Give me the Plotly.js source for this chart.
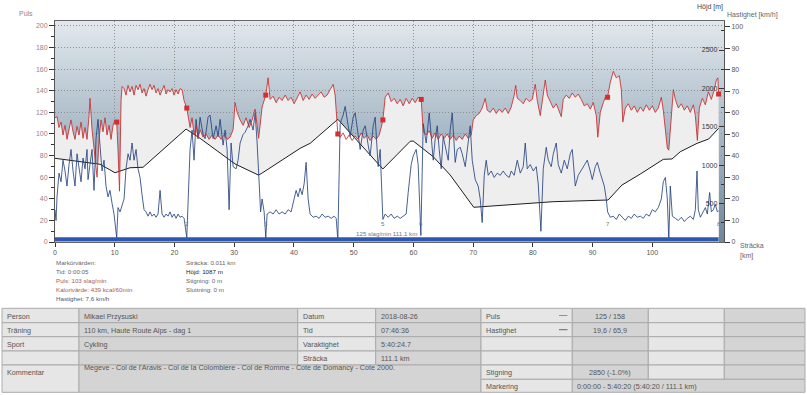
<!DOCTYPE html>
<html><head><meta charset="utf-8">
<script src="https://cdn.plot.ly/plotly-3.0.1.min.js"></script>
<style>html,body{margin:0;padding:0;background:#fff;overflow:hidden}#chart{width:807px;height:395px}</style>
</head><body><div id="chart"></div>
<script>
// ---------------- DATA ----------------
const pulseKm = [0,0.34,0.67,1.01,1.34,1.68,2.01,2.35,2.68,3.02,3.35,3.69,4.02,4.36,4.69,5.03,5.36,5.70,5.86,6.20,6.53,6.87,7.04,7.37,7.71,8.04,8.38,8.71,9.05,9.38,9.72,10.05,10.33,10.55,10.80,11.06,11.22,11.56,11.89,12.23,12.56,12.90,13.23,13.57,13.90,14.24,14.57,14.91,15.24,15.58,15.91,16.25,16.58,16.92,17.25,17.59,17.92,18.26,18.59,18.93,19.26,19.60,19.93,20.27,20.60,20.94,21.27,21.61,22.06,22.28,22.61,22.95,23.28,23.62,23.95,24.29,24.79,25.29,25.80,26.30,26.80,27.30,27.81,28.31,28.81,29.31,29.82,30.15,30.49,30.99,31.49,31.99,32.50,33.00,33.50,33.84,34.09,34.34,34.67,35.29,35.68,36.01,36.52,37.02,37.52,38.02,38.53,39.03,39.53,40.03,40.54,41.04,41.54,42.04,42.55,43.05,43.55,44.05,44.56,45.06,45.56,46.06,46.57,46.90,47.35,47.74,48.24,48.74,49.25,49.75,50.25,50.75,51.26,51.76,52.26,52.76,53.27,53.77,54.27,54.61,54.89,55.28,55.78,56.28,56.78,57.29,57.79,58.29,58.79,59.30,59.80,60.30,60.80,61.31,61.64,62.14,62.65,63.15,63.65,64.15,64.66,65.16,65.66,66.16,66.67,67.17,67.67,68.17,68.68,69.18,69.68,70.02,70.52,71.02,71.52,72.03,72.36,72.86,73.37,73.87,74.37,74.87,75.38,75.88,76.38,76.88,77.13,77.39,77.89,78.39,78.89,79.40,79.90,80.40,80.74,81.24,81.57,82.08,82.41,82.91,83.42,83.92,84.42,84.76,85.09,85.59,86.10,86.60,87.10,87.60,88.11,88.61,89.11,89.61,90.12,90.62,90.87,91.29,91.79,92.13,92.51,92.96,93.47,93.97,94.47,94.81,95.06,95.48,95.98,96.48,96.98,97.49,97.99,98.49,98.99,99.50,100.00,100.50,101.00,101.51,101.84,102.18,102.51,102.76,103.01,103.52,103.85,104.35,104.86,105.36,105.86,106.36,106.87,107.20,107.54,107.87,108.37,108.88,109.38,109.88,110.38,110.72,110.97,111.1];
const pulseBpm = [115,116,106,111,99,108,95,106,113,102,95,107,99,111,96,106,95,117,133,104,85,71,60,95,113,102,115,99,108,95,108,113,111,85,47,131,144,142,136,145,139,144,136,145,141,146,138,142,135,141,146,141,145,138,142,136,141,145,137,141,139,142,136,141,137,142,141,131,124,115,106,115,99,108,96,104,97,100,95,99,95,99,95,99,95,97,104,129,120,113,108,115,106,113,123,108,96,108,125,136,152,132,135,129,134,131,136,131,134,128,134,139,131,136,132,137,133,136,139,134,136,141,146,136,100,97,101,95,99,94,98,95,101,96,99,94,98,95,99,106,113,134,138,130,133,128,132,126,133,128,133,129,134,132,102,99,103,96,101,95,100,96,100,95,99,94,98,95,100,96,99,113,117,119,124,133,122,120,124,119,123,120,124,119,125,136,145,133,131,128,133,130,132,146,131,117,129,150,136,130,124,128,120,116,132,136,133,138,134,137,132,126,128,123,129,117,97,120,129,134,134,148,158,152,154,141,111,124,128,122,126,120,125,121,127,122,126,120,124,134,122,104,87,85,104,141,132,124,128,122,126,120,127,117,94,124,133,127,139,132,141,150,152,137];

const speedKm = [0,0.17,0.34,0.67,1.01,1.34,1.68,2.01,2.35,2.68,3.02,3.35,3.69,4.02,4.36,4.69,5.03,5.36,5.53,5.86,6.20,6.53,6.87,7.20,7.54,7.87,8.21,8.54,8.88,9.21,9.55,9.88,10.33,10.55,10.89,11.22,11.56,11.89,12.23,12.56,12.90,13.23,13.57,13.90,14.24,14.57,14.91,15.24,15.58,15.91,16.25,16.58,16.92,17.25,17.59,17.92,18.26,18.59,18.93,19.26,19.60,19.93,20.27,20.60,20.94,21.27,21.61,22.06,22.28,22.61,22.95,23.28,23.62,23.95,24.29,24.79,25.13,25.63,25.96,26.47,26.97,27.30,27.64,28.14,28.48,28.81,29.15,29.48,29.82,30.32,30.65,30.99,31.49,31.83,32.33,32.66,33.17,33.50,33.84,34.17,34.42,34.67,35.01,35.29,35.51,36.01,36.52,37.02,37.52,38.02,38.53,39.03,39.53,40.03,40.37,40.70,41.04,41.37,41.71,42.04,42.38,42.71,43.22,43.72,44.22,44.72,45.23,45.73,46.23,46.73,47.07,47.35,47.74,48.24,48.58,49.08,49.41,49.92,50.25,50.75,51.09,51.59,51.93,52.43,52.76,53.27,53.60,54.10,54.44,54.89,55.28,55.78,56.28,56.78,57.29,57.79,58.29,58.79,59.13,59.63,59.97,60.47,60.80,61.25,61.64,62.14,62.65,62.98,63.32,63.65,63.99,64.32,64.66,64.99,65.49,65.83,66.16,66.50,67.00,67.34,67.84,68.17,68.68,69.01,69.51,69.85,70.35,70.85,71.19,71.52,71.86,72.19,72.53,73.03,73.53,74.04,74.54,75.04,75.54,76.05,76.38,76.88,77.39,77.89,78.39,78.73,79.06,79.56,80.07,80.57,80.90,81.35,81.74,82.24,82.58,83.08,83.42,83.92,84.25,84.76,85.26,85.76,86.26,86.60,87.10,87.60,88.27,88.78,89.11,89.61,89.95,90.45,90.79,91.29,91.62,91.96,92.29,92.51,92.96,93.47,93.97,94.47,94.97,95.48,95.98,96.48,96.98,97.49,97.99,98.49,98.99,99.50,100.00,100.50,101.00,101.51,101.84,102.18,102.51,102.76,103.01,103.35,103.85,104.35,104.86,105.36,105.86,106.36,106.87,107.20,107.48,107.70,108.04,108.54,108.88,109.21,109.60,109.88,110.22,110.55,110.89,111.1];
const speedKmh = [15,10,21,32,28,38,33,26,36,43,33,26,41,35,28,39,34,43,29,36,43,24,48,57,43,33,38,26,21,24,18,13,2,16,14,17.5,20,34,41,38,46,38,43,34,30,22,15,14,12,14,12,13,11.5,13,24,13,11.5,13,12,14,11.5,13,11,13,11.5,12,11,2,20,43,52,38,57,48,58,50,48,58,59,48,54,49,57,45,52,43,15,46,35,34,38,46,50,51,54,57,52,60,46,29,14,20,14,2,13,14,13,15,13,14,13,15,14,20,24,21,25,22,27,37,20,13,11.5,12,11,13,11.5,12,11,12,11,1,55,59,63,54,49,58,60,50,43,52,54,45,40,54,58,35,43,10.5,13,11.5,13,11,12,11,12,13,23,36,40,43,36,3,55,46,60,50,38,48,54,43,34,49,43,38,52,60,37,43,44,41,35,43,54,38,29,26,20,9,31,38,31,33,30,32,31,33,31,30,33,31,38,32,35,46,34,36,33,35,27,5,34,44,38,35,41,46,36,32,38,34,41,43,26,31,34,36,38,33,29,35,37,32,29,26,20,14,11.5,12,10.5,13,11.5,10,12,11,13,11.5,12,11,13,12,15,14,16,20,28,30,20,1,26,12,11,10,11.5,9.5,11,12,10.5,15,33,15,11.5,14,16,13,23,14,15,17.5,14,14.5];

const altKm = [0,7.54,10.05,12.56,14.74,21.94,24.29,30.15,34.05,34.62,41.04,42.71,47.35,54.89,59.46,59.97,63.32,66.16,70.1,75.0,83.4,92.6,94.92,97.99,101.84,103.3,104.69,107.49,109.43,111.1];
const altM  = [1090,1012,902,967,973,1471,1350,1016,872,895,1220,1285,1598,951,1311,1315,1111,872,452,482,525,547,742,885,1077,1081,1176,1285,1341,1480];

const lapKm    = [10.33,22.06,35.29,47.35,54.89,61.31,92.51,111.1];
const lapPulse = [111,124,136,100,113,132,134,137];
const lapNames = ['','2','3','','5','6','7','8'];

const xTicks   = [0,10,20,30,40,50,60,70,80,90,100,110];
const altTicks = [500,1000,1500,2000,2500];

const avgText = '125 slag/min 111.1 km';
const markerLeft  = ['Markörvärden:','Tid: 0:00:05','Puls: 103 slag/min','Kalorivärde: 439 kcal/60min','Hastighet: 7,6 km/h'];
const markerRight = ['Sträcka: 0.011 km','Höjd: 1087 m','Stigning: 0 m','Sluttning: 0 m'];

const tabCol1 = ['Person','Träning','Sport','','Kommentar'];
const tabCol2 = ['Mikael Przysuski','110 km, Haute Route Alps - dag 1','Cykling',''];
const tabComment = "Megeve - Col de l'Aravis - Col de la Colombiere - Col de Romme - Cote de Domancy - Cote 2000.";
const tabCol3 = ['Datum','Tid','Varaktighet','Sträcka'];
const tabCol4 = ['2018-08-26','07:46:36','5:40:24.7','111.1 km'];
const tabCol5 = ['Puls','Hastighet','','','Stigning','Markering'];
const tabCol6 = ['125 / 158','19,6 / 65,9','','','2850 (-1.0%)'];
const tabMarkering = '0:00:00 - 5:40:20 (5:40:20 / 111.1 km)';

// ---------------- LAYOUT HELPERS ----------------
const FONT = 'Liberation Sans, Arial, sans-serif';
const L = 55, R = 724, T = 21, B = 242;
const X = v => (v - L) / (R - L);
const Y = v => (B - v) / (B - T);
const PULSE_TOP = 204.6, SPEED_TOP = 102.7, ALT_TOP = 2878;

function gradientURI(){
  const c = document.createElement('canvas'); c.width = 4; c.height = 256;
  const g = c.getContext('2d'); const lg = g.createLinearGradient(0,0,0,256);
  lg.addColorStop(0,'#e2e8ed'); lg.addColorStop(0.5,'#a8b9c7'); lg.addColorStop(1,'#6d879c');
  g.fillStyle = lg; g.fillRect(0,0,4,256); return c.toDataURL('image/png');
}

const ann = [], shapes = [];
function txt(xpx, ypx, text, size, color, xanchor){
  ann.push({xref:'paper', yref:'paper', x:X(xpx), y:Y(ypx), text:text, showarrow:false,
    xanchor:xanchor||'left', yanchor:'middle', font:{family:FONT, size:size, color:color}, borderpad:0});
}

// axis titles
txt(25.5, 14, 'Puls', 7, '#9c8080', 'center');
txt(709.5, 7, 'Höjd [m]', 7, '#444', 'center');
txt(752.5, 14.5, 'Hastighet [km/h]', 7, '#666', 'center');
txt(739, 245, 'Sträcka', 7, '#666', 'left');
txt(739, 256, '[km]', 7, '#666', 'left');

// marker values
const mlY = [262.7, 271.7, 280.7, 289.5, 298.3];
const mlC = ['#666','#666','#a55a5a','#a55a5a','#4a5878'];
markerLeft.forEach((t,i)=>txt(54.5, mlY[i], t, 6.2, mlC[i]));
const mrC = ['#666','#222','#666','#666'];
markerRight.forEach((t,i)=>txt(185, mlY[i], t, 6.2, mrC[i]));

// average text inside plot
ann.push({xref:'x', yref:'paper', x:55.55, y:Y(233.5), text:avgText, showarrow:false, xanchor:'center', yanchor:'middle',
  font:{family:FONT, size:6.2, color:'#777'}, borderpad:0});

// lap labels
lapKm.forEach((k,i)=>{ if(lapNames[i]) ann.push({xref:'x', yref:'y3', x:k, y:8.6, text:lapNames[i], showarrow:false,
  xanchor:'center', yanchor:'middle', font:{family:FONT, size:6.2, color:'#777'}, borderpad:0}); });

// bottom selection bar
shapes.push({type:'rect', xref:'x', yref:'paper', x0:0, x1:111.1, y0:Y(241.4), y1:Y(237.3),
  fillcolor:'#2d57b0', line:{width:0}, layer:'above'});

// ---------------- TABLE ----------------
const RW = [308.3, 322.7, 336.7, 351, 365, 379.3, 392.3];
const CL = [2, 79, 297.7, 375.7, 481, 572.3, 648.3, 724.3, 805];
const LIGHT = '#e6e6e6', DARK = '#d4d4d4';
function cell(x0,x1,y0,y1,fill){
  shapes.push({type:'rect', xref:'paper', yref:'paper', x0:X(x0), x1:X(x1), y0:Y(y1), y1:Y(y0),
    fillcolor:fill, line:{color:'#ababab', width:1}, layer:'above'});
}
for(let r=0;r<4;r++) for(let c=0;c<8;c++) cell(CL[c],CL[c+1],RW[r],RW[r+1], c%2 ? DARK : LIGHT);
cell(CL[0],CL[1],RW[4],RW[6],LIGHT);
cell(CL[1],CL[4],RW[4],RW[6],DARK);
for(let c=4;c<8;c++) cell(CL[c],CL[c+1],RW[4],RW[5], c%2 ? DARK : LIGHT);
cell(CL[4],CL[5],RW[5],RW[6],LIGHT);
cell(CL[5],CL[8],RW[5],RW[6],DARK);

const TC = '#555', TS = 7.2;
const rowMid = r => (RW[r]+RW[r+1])/2 + 0.8;
tabCol1.forEach((t,i)=>{ if(t){ const y = i<4 ? rowMid(i) : 372.7; txt(CL[0]+4, y, t, TS, TC); }});
tabCol2.forEach((t,i)=>{ if(t) txt(CL[1]+4, rowMid(i), t, TS, TC); });
txt(CL[1]+4, 367.6, tabComment, TS, TC);
tabCol3.forEach((t,i)=>{ if(t) txt(CL[2]+4, rowMid(i), t, TS, TC); });
tabCol4.forEach((t,i)=>{ if(t) txt(CL[3]+4, rowMid(i), t, TS, TC); });
tabCol5.forEach((t,i)=>{ if(t) txt(CL[4]+4, rowMid(i), t, TS, TC); });
tabCol6.forEach((t,i)=>{ if(t) txt((CL[5]+CL[6])/2, rowMid(i), t, TS, TC, 'center'); });
txt(CL[5]+4, rowMid(5), tabMarkering, TS, TC);
// legend dashes
[['#e07070',0],['#5a6890',1]].forEach(([col,r])=>{
  const y = (RW[r]+RW[r+1])/2;
  shapes.push({type:'line', xref:'paper', yref:'paper', x0:X(559), x1:X(567.5), y0:Y(y), y1:Y(y), line:{color:col, width:1}, layer:'above'});
});

// ---------------- TRACES ----------------
const traces = [
  {x:pulseKm, y:pulseBpm, type:'scatter', mode:'lines', yaxis:'y', fill:'tozeroy', fillcolor:'#eeeeee',
   line:{width:0, color:'rgba(0,0,0,0)'}, hoverinfo:'skip'},
  {x:altKm, y:altM, type:'scatter', mode:'lines', yaxis:'y2', fill:'tozeroy', fillcolor:'#ffffff',
   line:{width:1, color:'#1e1e1e'}, hoverinfo:'skip'},
  {x:speedKm, y:speedKmh, type:'scatter', mode:'lines', yaxis:'y3',
   line:{width:1, color:'rgba(32,62,125,0.82)'}, hoverinfo:'skip'},
  {x:pulseKm, y:pulseBpm, type:'scatter', mode:'lines', yaxis:'y4',
   line:{width:1, color:'rgba(200,45,45,0.85)'}, hoverinfo:'skip'},
  {x:lapKm, y:lapPulse, type:'scatter', mode:'markers', yaxis:'y4',
   marker:{symbol:'square', size:5, color:'#d32f2f'}, hoverinfo:'skip'}
];

const tickFont = c => ({family:FONT, size:7, color:c});
const GRID = {showgrid:true, gridcolor:'#8f8f8f', griddash:'1px,2px', gridwidth:1};
const layout = {
  width:807, height:395, autosize:false,
  margin:{l:L, r:807-R, t:T, b:395-B, pad:0},
  paper_bgcolor:'#ffffff', plot_bgcolor:'rgba(0,0,0,0)',
  showlegend:false, hovermode:false,
  images:[{source:gradientURI(), xref:'paper', yref:'paper', x:0, y:1, sizex:1, sizey:1,
    xanchor:'left', yanchor:'top', sizing:'stretch', layer:'below'}],
  xaxis:Object.assign({range:[0,112], tickmode:'array', tickvals:xTicks, ticks:'outside', ticklen:4, tickcolor:'#333',
    tickfont:tickFont('#555'), showline:true, linecolor:'#666', mirror:true, zeroline:false, fixedrange:true}, GRID),
  yaxis:Object.assign({range:[0,PULSE_TOP], dtick:20, ticks:'outside', ticklen:5, tickcolor:'#333',
    minor:{dtick:10, ticks:'outside', ticklen:3, tickcolor:'#333', showgrid:false},
    tickfont:tickFont('#9c8080'), showline:true, linecolor:'#555', zeroline:false, side:'left', fixedrange:true}, GRID),
  yaxis2:{range:[0,ALT_TOP], overlaying:'y', side:'right', anchor:'x', tickmode:'array', tickvals:altTicks,
    ticks:'inside', ticklen:5, tickcolor:'#333', ticklabelposition:'inside',
    minor:{dtick:250, ticks:'inside', ticklen:3, tickcolor:'#333', showgrid:false},
    tickfont:tickFont('#333'), showgrid:false, showline:false, zeroline:false, fixedrange:true},
  yaxis3:{range:[0,SPEED_TOP], overlaying:'y', side:'right', anchor:'x', dtick:10, ticks:'outside', ticklen:5,
    tickcolor:'#333', tickfont:tickFont('#555'), showgrid:false, showline:true, linecolor:'#555',
    zeroline:false, fixedrange:true},
  yaxis4:{range:[0,PULSE_TOP], overlaying:'y', visible:false, fixedrange:true},
  annotations:ann, shapes:shapes
};

Plotly.newPlot('chart', traces, layout, {staticPlot:true, displayModeBar:false});
</script></body></html>
